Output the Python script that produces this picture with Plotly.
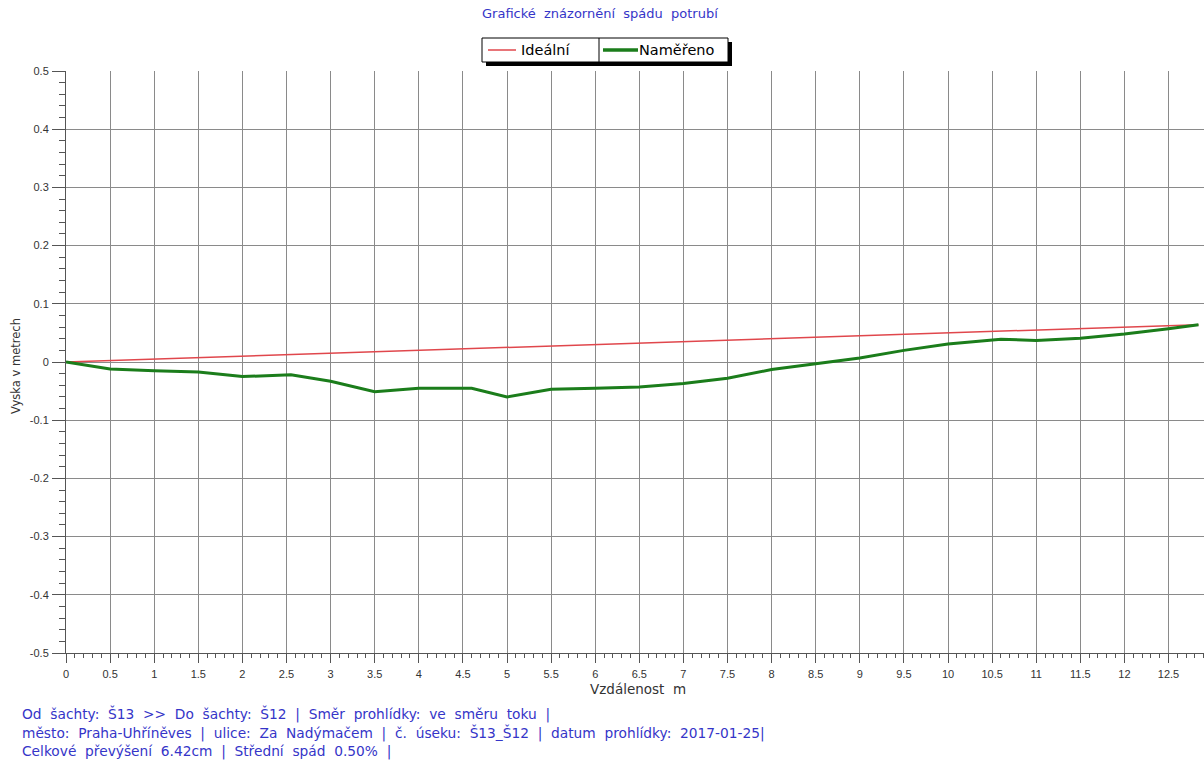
import plotly.graph_objects as go

# Measured profile of the pipe (distance in m, height in m)
dist_measured = [0, 0.5, 1.0, 1.5, 2.0, 2.55, 3.0, 3.5, 4.0, 4.6, 5.0, 5.5, 6.0, 6.5,
                 7.0, 7.5, 8.0, 8.5, 9.0, 9.5, 10.0, 10.6, 11.0, 11.5, 12.0, 12.5, 12.84]
height_measured = [0, -0.012, -0.015, -0.017, -0.025, -0.022, -0.033, -0.051, -0.045,
                   -0.045, -0.060, -0.047, -0.045, -0.043, -0.037, -0.028, -0.013, -0.003,
                   0.007, 0.020, 0.031, 0.039, 0.037, 0.041, 0.048, 0.057, 0.0642]

# Ideal constant slope between the two manholes
dist_ideal = [0, 12.84]
height_ideal = [0, 0.0642]

x_ticks = [i * 0.5 for i in range(26)]
x_tick_labels = ["0" if v == 0 else (str(int(v)) if v == int(v) else str(v)) for v in x_ticks]
y_ticks = [-0.5, -0.4, -0.3, -0.2, -0.1, 0, 0.1, 0.2, 0.3, 0.4, 0.5]
y_tick_labels = ["-0.5", "-0.4", "-0.3", "-0.2", "-0.1", "0", "0.1", "0.2", "0.3", "0.4", "0.5"]

title_text = "Grafické  znázornění  spádu  potrubí"
legend_names = ["Ideální", "Naměřeno"]
x_title = "Vzdálenost  m"
y_title = "Vyska v metrech"
info_lines = [
    "Od  šachty:  Š13  >>  Do  šachty:  Š12  |  Směr  prohlídky:  ve  směru  toku  |",
    "město:  Praha-Uhříněves  |  ulice:  Za  Nadýmačem  |  č.  úseku:  Š13_Š12  |  datum  prohlídky:  2017-01-25|",
    "Celkové  převýšení  6.42cm  |  Střední  spád  0.50%  |",
]

W, H = 1204, 769
ML, MR, MT, MB = 66, 0, 71, 116
PW, PH = W - ML - MR, H - MT - MB

RED = "#e0474c"
GREEN = "#1b7d1b"
BLUE = "#3535c8"
GRID = "#8a8a8a"
FONT = "Liberation Sans, Arial, sans-serif"
WIDE = "DejaVu Sans, Verdana, sans-serif"


def px(x):
    return (x - ML) / PW


def py(y):
    return (H - MB - y) / PH


fig = go.Figure()
fig.add_trace(go.Scatter(x=dist_ideal, y=height_ideal, mode="lines",
                         line=dict(color=RED, width=1.5), name=legend_names[0]))
fig.add_trace(go.Scatter(x=dist_measured, y=height_measured, mode="lines",
                         line=dict(color=GREEN, width=3), name=legend_names[1]))

fig.update_layout(
    width=W, height=H,
    margin=dict(l=ML, r=MR, t=MT, b=MB, pad=0),
    paper_bgcolor="white", plot_bgcolor="white",
    showlegend=False,
    font=dict(family=FONT, size=11, color="#3a3a3a"),
)

fig.update_xaxes(
    range=[0, PW / 88.2], tickvals=x_ticks, ticktext=x_tick_labels,
    showgrid=True, gridcolor=GRID, gridwidth=1, zeroline=False,
    showline=True, linecolor="#555555", linewidth=1,
    ticks="outside", ticklen=9, tickcolor="#555555", ticklabelstandoff=2,
    tickfont=dict(size=11, color="#333333"),
    minor=dict(dtick=0.1, ticks="outside", ticklen=4, tickcolor="#555555", showgrid=False),
)
fig.update_yaxes(
    range=[-0.5, 0.5], tickvals=y_ticks, ticktext=y_tick_labels,
    showgrid=True, gridcolor=GRID, gridwidth=1, zeroline=False,
    showline=True, linecolor="#555555", linewidth=1,
    ticks="outside", ticklen=13, tickcolor="#555555", ticklabelstandoff=1,
    tickfont=dict(size=11, color="#333333"),
    minor=dict(dtick=0.02, ticks="outside", ticklen=6, tickcolor="#555555", showgrid=False),
)

shapes = []
annotations = []

# Title
annotations.append(dict(x=px(600), y=py(14), xref="paper", yref="paper", text=title_text,
                        showarrow=False, xanchor="center", yanchor="middle",
                        font=dict(family=WIDE, size=13, color=BLUE)))

# Legend box with drop shadow and two cells
lx0, lx1, ly0, ly1, ldiv = 482, 728, 38, 62, 599
shapes.append(dict(type="rect", xref="paper", yref="paper",
                   x0=px(lx0 + 4), x1=px(lx1 + 4), y0=py(ly1 + 4), y1=py(ly0 + 4),
                   fillcolor="black", line=dict(width=0)))
shapes.append(dict(type="rect", xref="paper", yref="paper",
                   x0=px(lx0), x1=px(lx1), y0=py(ly1), y1=py(ly0),
                   fillcolor="white", line=dict(color="black", width=1)))
shapes.append(dict(type="line", xref="paper", yref="paper",
                   x0=px(ldiv), x1=px(ldiv), y0=py(ly1), y1=py(ly0),
                   line=dict(color="black", width=1)))
shapes.append(dict(type="line", xref="paper", yref="paper",
                   x0=px(488), x1=px(516), y0=py(50), y1=py(50),
                   line=dict(color=RED, width=1.5)))
shapes.append(dict(type="line", xref="paper", yref="paper",
                   x0=px(603), x1=px(638), y0=py(50), y1=py(50),
                   line=dict(color=GREEN, width=3.5)))
annotations.append(dict(x=px(519), y=py(50), xref="paper", yref="paper", text=legend_names[0],
                        showarrow=False, xanchor="left", yanchor="middle",
                        font=dict(family=WIDE, size=14.5, color="black")))
annotations.append(dict(x=px(637), y=py(50), xref="paper", yref="paper", text=legend_names[1],
                        showarrow=False, xanchor="left", yanchor="middle",
                        font=dict(family=WIDE, size=14.5, color="black")))

# Axis titles
annotations.append(dict(x=px(638), y=py(689), xref="paper", yref="paper", text=x_title,
                        showarrow=False, xanchor="center", yanchor="middle",
                        font=dict(family=WIDE, size=13.5, color="#333333")))
annotations.append(dict(x=px(16), y=py(366), xref="paper", yref="paper", text=y_title,
                        showarrow=False, xanchor="center", yanchor="middle", textangle=-90,
                        font=dict(family=WIDE, size=11.5, color="#333333")))

# Info lines below the chart
for i, line in enumerate(info_lines):
    annotations.append(dict(x=px(20), y=py(714 + 18.5 * i), xref="paper", yref="paper",
                            text=line, showarrow=False, xanchor="left", yanchor="middle",
                            font=dict(family=WIDE, size=13.75, color=BLUE)))

fig.update_layout(shapes=shapes, annotations=annotations)
fig.write_html("out.html")
